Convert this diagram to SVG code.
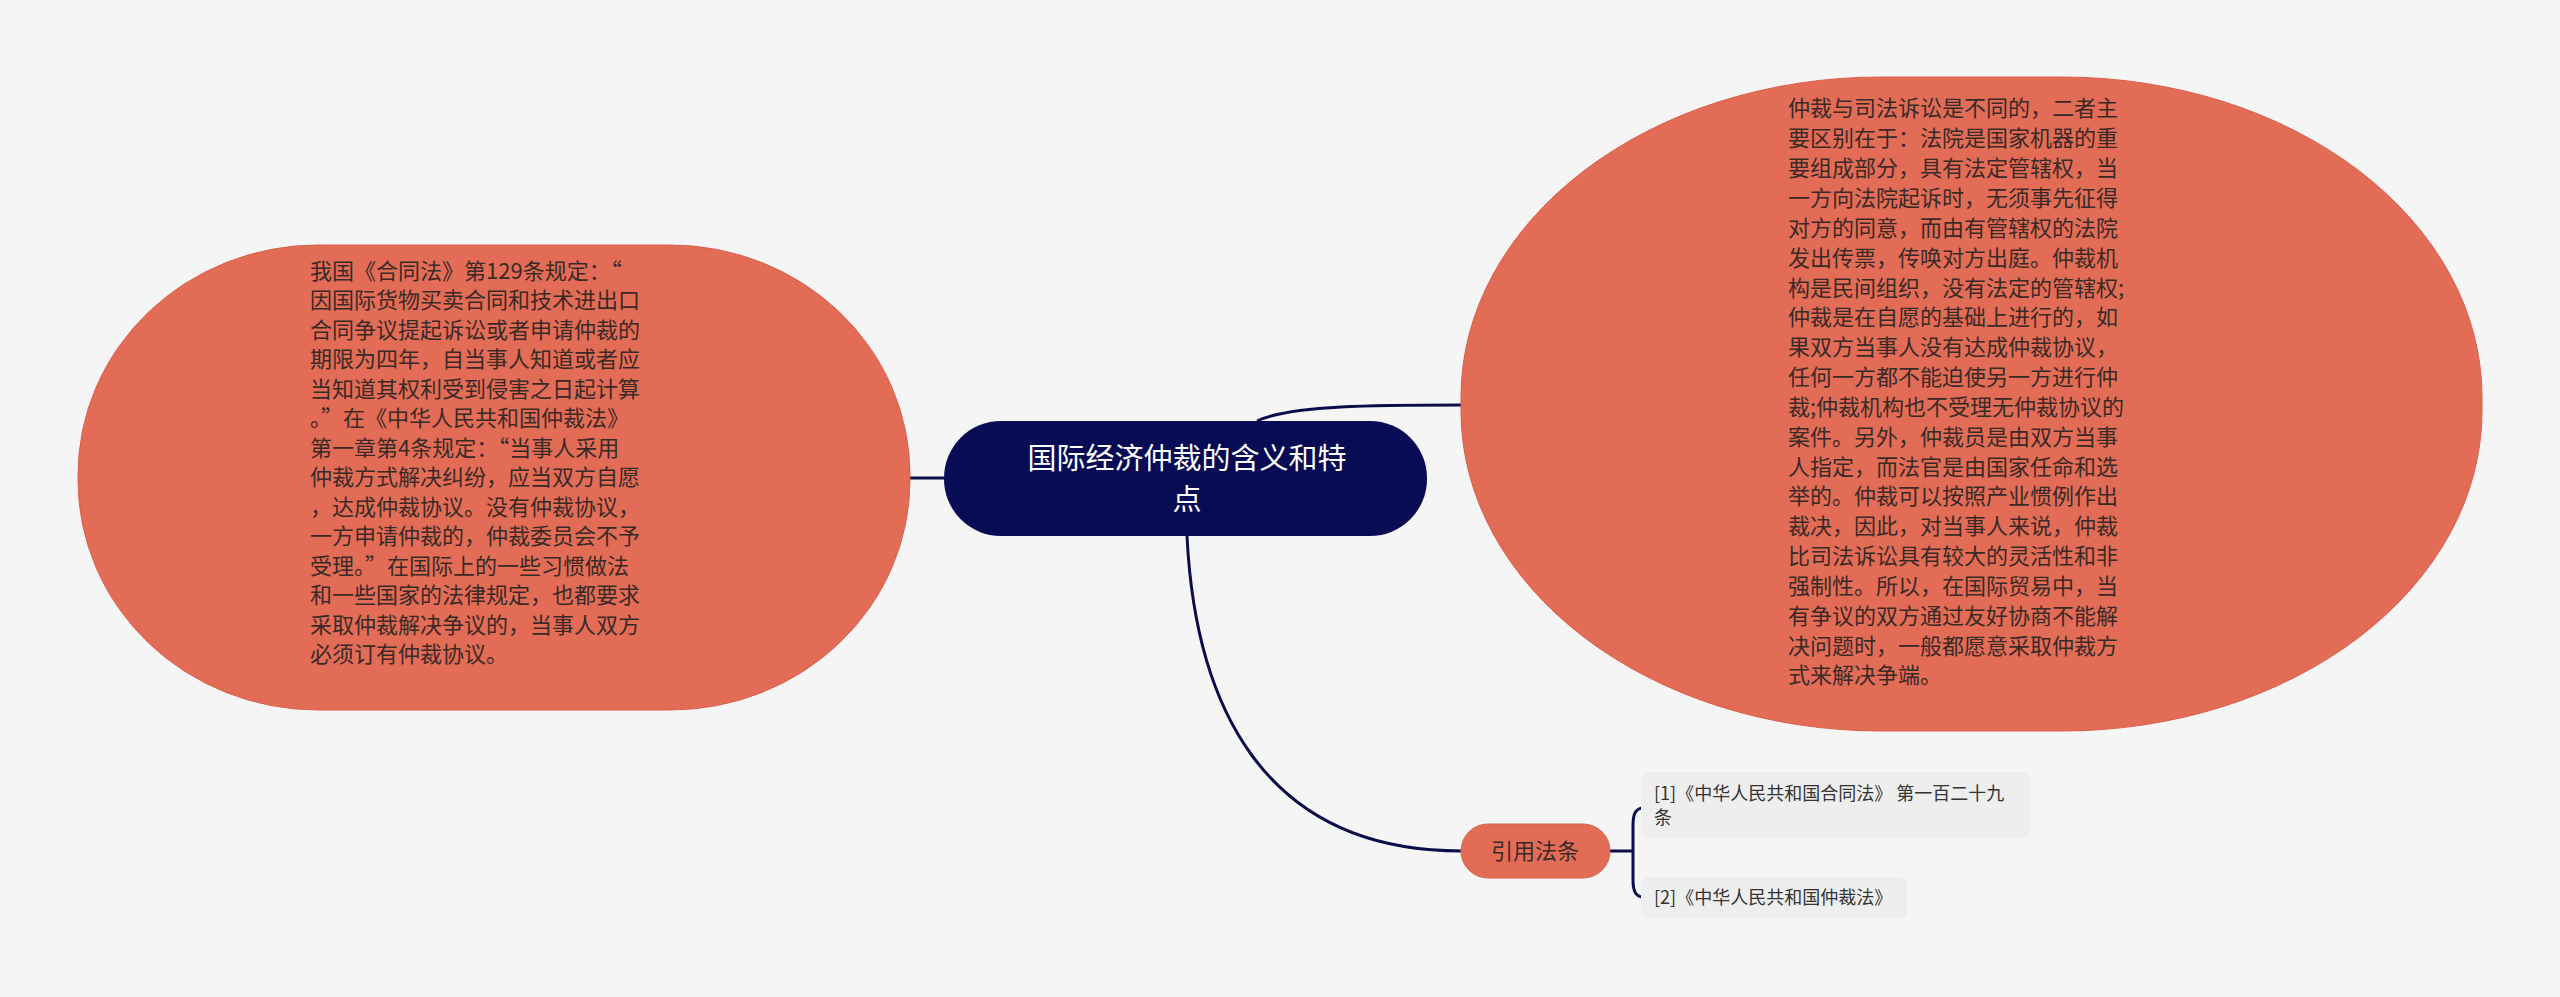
<svg xmlns="http://www.w3.org/2000/svg" width="2560" height="997" viewBox="0 0 2560 997">
<style>
.t{font-family:"Noto Sans CJK SC","Noto Sans",sans-serif;fill:#3a2a26;font-size:22px}
.w{font-family:"Noto Sans CJK SC","Noto Sans",sans-serif;fill:#ffffff;font-size:29px;text-anchor:middle}
.s{font-family:"Noto Sans CJK SC","Noto Sans",sans-serif;fill:#333;font-size:18px}
.c{fill:none;stroke:#0a0d4a;stroke-width:3}
.o{fill:#e36c57;stroke:#d9604c;stroke-width:1}
</style>
<rect width="2560" height="997" fill="#f5f5f5"/>
<g id="connectors">
<path class="c" d="M910 478 H944"/>
<path class="c" d="M1257 421 C1290 405 1380 405 1461 405"/>
<path class="c" d="M1187 536 C1195 700 1260 851 1461 851"/>
<path class="c" d="M1610 851 H1633 M1649 807 C1636 807 1633 812 1633 825 V880 C1633 893 1636 898 1649 898"/>
</g>
<g id="left">
<rect class="o" x="78" y="245" width="832" height="465" rx="240" ry="230"/>
<text class="t" x="310">
<tspan x="310" y="279">我国《合同法》第129条规定：“</tspan>
<tspan x="310" y="308">因国际货物买卖合同和技术进出口</tspan>
<tspan x="310" y="338">合同争议提起诉讼或者申请仲裁的</tspan>
<tspan x="310" y="367">期限为四年，自当事人知道或者应</tspan>
<tspan x="310" y="397">当知道其权利受到侵害之日起计算</tspan>
<tspan x="310" y="426">。”在《中华人民共和国仲裁法》</tspan>
<tspan x="310" y="456">第一章第4条规定：“当事人采用</tspan>
<tspan x="310" y="485">仲裁方式解决纠纷，应当双方自愿</tspan>
<tspan x="310" y="515">，达成仲裁协议。没有仲裁协议，</tspan>
<tspan x="310" y="544">一方申请仲裁的，仲裁委员会不予</tspan>
<tspan x="310" y="574">受理。”在国际上的一些习惯做法</tspan>
<tspan x="310" y="603">和一些国家的法律规定，也都要求</tspan>
<tspan x="310" y="633">采取仲裁解决争议的，当事人双方</tspan>
<tspan x="310" y="662">必须订有仲裁协议。</tspan>
</text>
</g>
<g id="center">
<rect x="944" y="421" width="483" height="115" rx="57" fill="#070c55"/>
<text class="w"><tspan x="1187" y="469">国际经济仲裁的含义和特</tspan><tspan x="1187" y="510">点</tspan></text>
</g>
<g id="right">
<rect class="o" x="1461" y="77" width="1021" height="654" rx="420" ry="320"/>
<text class="t">
<tspan x="1788" y="116">仲裁与司法诉讼是不同的，二者主</tspan>
<tspan x="1788" y="146">要区别在于：法院是国家机器的重</tspan>
<tspan x="1788" y="176">要组成部分，具有法定管辖权，当</tspan>
<tspan x="1788" y="206">一方向法院起诉时，无须事先征得</tspan>
<tspan x="1788" y="236">对方的同意，而由有管辖权的法院</tspan>
<tspan x="1788" y="266">发出传票，传唤对方出庭。仲裁机</tspan>
<tspan x="1788" y="296">构是民间组织，没有法定的管辖权;</tspan>
<tspan x="1788" y="325">仲裁是在自愿的基础上进行的，如</tspan>
<tspan x="1788" y="355">果双方当事人没有达成仲裁协议，</tspan>
<tspan x="1788" y="385">任何一方都不能迫使另一方进行仲</tspan>
<tspan x="1788" y="415">裁;仲裁机构也不受理无仲裁协议的</tspan>
<tspan x="1788" y="445">案件。另外，仲裁员是由双方当事</tspan>
<tspan x="1788" y="475">人指定，而法官是由国家任命和选</tspan>
<tspan x="1788" y="504">举的。仲裁可以按照产业惯例作出</tspan>
<tspan x="1788" y="534">裁决，因此，对当事人来说，仲裁</tspan>
<tspan x="1788" y="564">比司法诉讼具有较大的灵活性和非</tspan>
<tspan x="1788" y="594">强制性。所以，在国际贸易中，当</tspan>
<tspan x="1788" y="624">有争议的双方通过友好协商不能解</tspan>
<tspan x="1788" y="654">决问题时，一般都愿意采取仲裁方</tspan>
<tspan x="1788" y="683">式来解决争端。</tspan>
</text>
</g>
<g id="cite">
<rect x="1461" y="824" width="149" height="54" rx="27" fill="#e36c57" stroke="#d9604c"/>
<text class="t" x="1535" y="859" text-anchor="middle">引用法条</text>
</g>
<g id="leaf1">
<rect x="1641" y="772" width="389" height="66" rx="8" fill="#eeeeee"/>
<text class="s"><tspan x="1654" y="800">[1]《中华人民共和国合同法》 第一百二十九</tspan><tspan x="1654" y="824">条</tspan></text>
</g>
<g id="leaf2">
<rect x="1641" y="877" width="266" height="42" rx="8" fill="#eeeeee"/>
<text class="s" x="1654" y="904">[2]《中华人民共和国仲裁法》</text>
</g>
</svg>
